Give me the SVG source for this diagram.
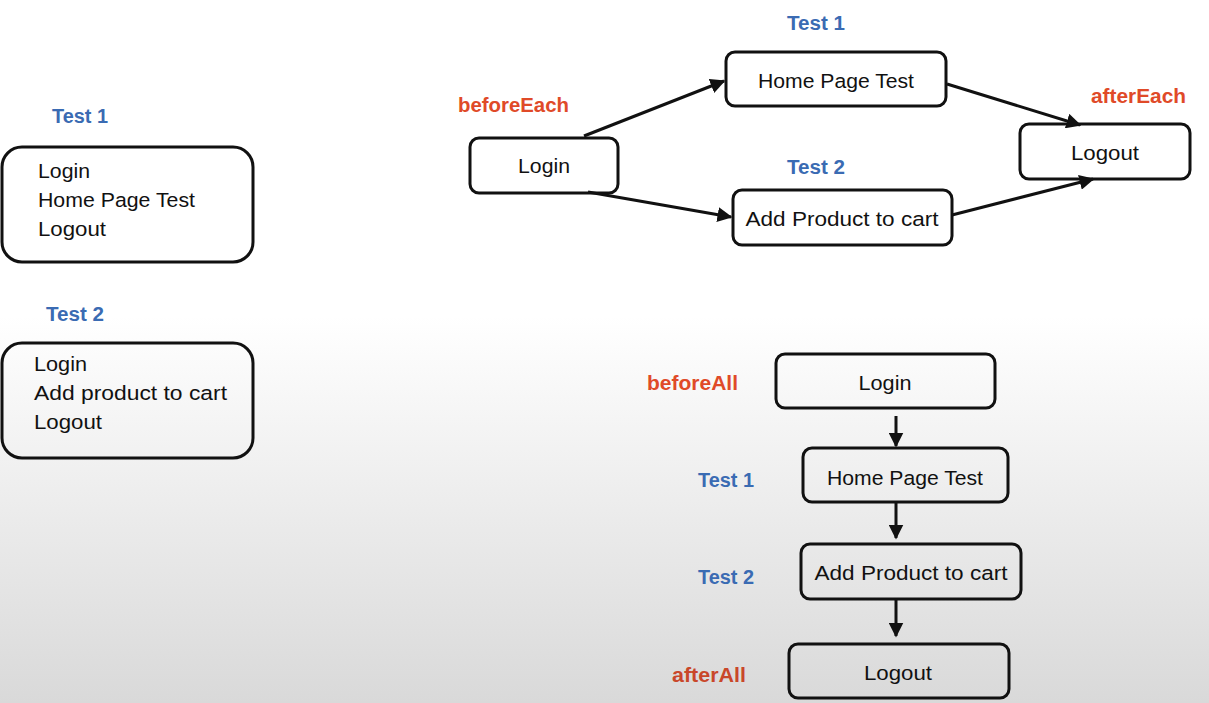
<svg xmlns="http://www.w3.org/2000/svg" width="1209" height="703" viewBox="0 0 1209 703">
<defs>
<linearGradient id="bg" x1="0" y1="0" x2="0" y2="703" gradientUnits="userSpaceOnUse">
<stop offset="0" stop-color="#ffffff"/>
<stop offset="0.45" stop-color="#ffffff"/>
<stop offset="1" stop-color="#d9d9d9"/>
</linearGradient>
<marker id="ah" viewBox="0 0 10 10" refX="9" refY="5" markerWidth="5" markerHeight="5" orient="auto" markerUnits="strokeWidth">
<path d="M0,0 L10,5 L0,10 z" fill="#111"/>
</marker>
<style>
.box{fill:none;stroke:#111;stroke-width:3}
.t{font-family:"Liberation Sans",Arial,sans-serif;font-size:20.5px;fill:#111}
.c{text-anchor:middle}
.blue{font-family:"Liberation Sans",Arial,sans-serif;font-size:20px;font-weight:bold;fill:#3a6bb3}
.red{font-family:"Liberation Sans",Arial,sans-serif;font-size:20px;font-weight:bold;fill:#e04a28}
.conn{stroke:#111;stroke-width:3;fill:none;marker-end:url(#ah)}
</style>
</defs>
<rect x="0" y="0" width="1209" height="703" fill="url(#bg)"/>

<g id="left-test1">
<text class="blue" x="52" y="123" textLength="56" lengthAdjust="spacingAndGlyphs">Test 1</text>
<rect class="box" x="2" y="147" width="251" height="115" rx="20"/>
<text class="t" x="38" y="178" textLength="52" lengthAdjust="spacingAndGlyphs">Login</text>
<text class="t" x="38" y="207" textLength="157" lengthAdjust="spacingAndGlyphs">Home Page Test</text>
<text class="t" x="38" y="236" textLength="68" lengthAdjust="spacingAndGlyphs">Logout</text>
</g>

<g id="left-test2">
<text class="blue" x="46" y="321" textLength="58" lengthAdjust="spacingAndGlyphs">Test 2</text>
<rect class="box" x="2" y="343" width="251" height="115" rx="20"/>
<text class="t" x="34" y="371" textLength="53" lengthAdjust="spacingAndGlyphs">Login</text>
<text class="t" x="34" y="400" textLength="193" lengthAdjust="spacingAndGlyphs">Add product to cart</text>
<text class="t" x="34" y="429" textLength="68" lengthAdjust="spacingAndGlyphs">Logout</text>
</g>

<g id="each-login">
<text class="red" x="458" y="112" textLength="111" lengthAdjust="spacingAndGlyphs">beforeEach</text>
<rect class="box" x="470" y="138" width="148" height="55" rx="9"/>
<text class="t c" x="544" y="173" textLength="52" lengthAdjust="spacingAndGlyphs">Login</text>
</g>
<g id="each-home">
<text class="blue" x="787" y="30" textLength="58" lengthAdjust="spacingAndGlyphs">Test 1</text>
<rect class="box" x="726" y="52" width="220" height="54" rx="9"/>
<text class="t c" x="836" y="88" textLength="156" lengthAdjust="spacingAndGlyphs">Home Page Test</text>
</g>
<g id="each-cart">
<text class="blue" x="787" y="174" textLength="58" lengthAdjust="spacingAndGlyphs">Test 2</text>
<rect class="box" x="733" y="190" width="219" height="55" rx="9"/>
<text class="t c" x="842" y="226" textLength="193" lengthAdjust="spacingAndGlyphs">Add Product to cart</text>
</g>
<g id="each-logout">
<text class="red" x="1091" y="103" textLength="95" lengthAdjust="spacingAndGlyphs">afterEach</text>
<rect class="box" x="1020" y="124" width="170" height="55" rx="9"/>
<text class="t c" x="1105" y="160" textLength="68" lengthAdjust="spacingAndGlyphs">Logout</text>
</g>

<g id="all-login">
<text class="red" x="647" y="390" textLength="91" lengthAdjust="spacingAndGlyphs">beforeAll</text>
<rect class="box" x="776" y="354" width="219" height="54" rx="9"/>
<text class="t c" x="885" y="390" textLength="53" lengthAdjust="spacingAndGlyphs">Login</text>
</g>
<g id="all-home">
<text class="blue" x="698" y="487" textLength="56" lengthAdjust="spacingAndGlyphs">Test 1</text>
<rect class="box" x="803" y="448" width="205" height="54" rx="9"/>
<text class="t c" x="905" y="485" textLength="156" lengthAdjust="spacingAndGlyphs">Home Page Test</text>
</g>
<g id="all-cart">
<text class="blue" x="698" y="584" textLength="56" lengthAdjust="spacingAndGlyphs">Test 2</text>
<rect class="box" x="801" y="544" width="220" height="55" rx="9"/>
<text class="t c" x="911" y="580" textLength="193" lengthAdjust="spacingAndGlyphs">Add Product to cart</text>
</g>
<g id="all-logout">
<text class="red" x="672" y="682" textLength="74" lengthAdjust="spacingAndGlyphs" style="fill:#c9472a">afterAll</text>
<rect class="box" x="789" y="644" width="220" height="54" rx="9"/>
<text class="t c" x="898" y="680" textLength="68" lengthAdjust="spacingAndGlyphs">Logout</text>
</g>

<g id="connectors">
<line class="conn" x1="584" y1="136" x2="724" y2="81"/>
<line class="conn" x1="588" y1="192" x2="731" y2="217"/>
<line class="conn" x1="947" y1="84" x2="1080" y2="125"/>
<line class="conn" x1="952" y1="215" x2="1093" y2="179"/>
<line class="conn" x1="896" y1="416" x2="896" y2="446"/>
<line class="conn" x1="896" y1="503" x2="896" y2="538"/>
<line class="conn" x1="896" y1="599" x2="896" y2="636"/>
</g>
</svg>
